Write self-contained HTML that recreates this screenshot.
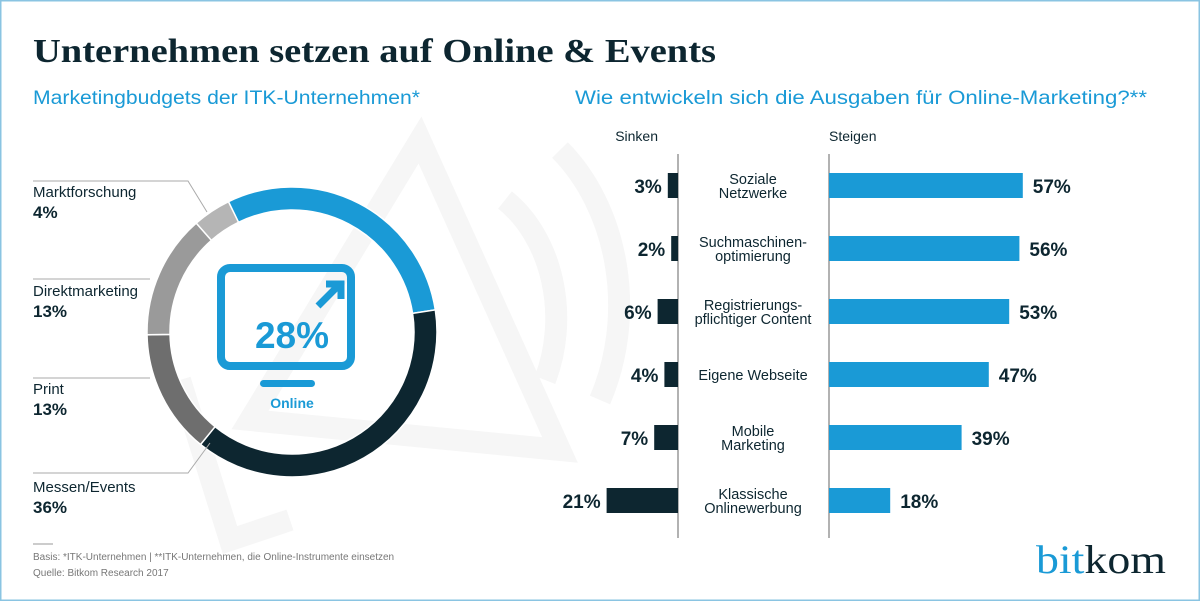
<!DOCTYPE html>
<html><head><meta charset="utf-8"><style>
body{margin:0;width:1200px;height:601px;overflow:hidden;background:#fff;font-family:"Liberation Sans",sans-serif}
</style></head><body>
<svg width="1200" height="601" viewBox="0 0 1200 601" id="chart">
<rect x="0.5" y="0.5" width="1199" height="600" fill="#fff" stroke="#8ac4e2" stroke-width="2"/>
<g fill="none" stroke="#f6f6f6" stroke-width="22">
<path d="M420 140 L560 450 L250 420 Z"/>
<path d="M505 200 A110 140 0 0 1 545 380"/>
<path d="M560 150 A160 200 0 0 1 600 400"/>
<path d="M180 380 L230 540 L290 520"/>
</g>
<text x="33" y="62" font-family="Liberation Serif,serif" font-weight="bold" font-size="34" textLength="683" lengthAdjust="spacingAndGlyphs" fill="#0d2630">Unternehmen setzen auf Online &amp; Events</text>
<text x="33" y="104" font-size="19" textLength="387" lengthAdjust="spacingAndGlyphs" fill="#1a9ad6">Marketingbudgets der ITK-Unternehmen*</text>
<text x="575" y="104" font-size="19" textLength="572" lengthAdjust="spacingAndGlyphs" fill="#1a9ad6">Wie entwickeln sich die Ausgaben für Online-Marketing?**</text>
<g id="donut"></g>
<g id="legend" font-size="15" fill="#0d2630"></g>
<g>
<rect x="221" y="268" width="130" height="98" rx="9" fill="none" stroke="#1a9ad6" stroke-width="8"/>
<path d="M318 306 L340 284 M326 284 L341 284 L341 299" stroke="#1a9ad6" stroke-width="7" fill="none"/>
<rect x="260" y="380" width="55" height="7" rx="3.5" fill="#1a9ad6"/>
<text x="292" y="348" text-anchor="middle" font-size="37" font-weight="bold" fill="#1a9ad6">28%</text>
<text x="292" y="408" text-anchor="middle" font-size="14" font-weight="bold" fill="#1a9ad6">Online</text>
</g>
<text x="658" y="141" text-anchor="end" font-size="14" fill="#0d2630">Sinken</text>
<text x="829" y="141" font-size="14" fill="#0d2630">Steigen</text>
<line x1="678" y1="154" x2="678" y2="538" stroke="#999" stroke-width="1.5"/>
<line x1="829" y1="154" x2="829" y2="538" stroke="#999" stroke-width="1.5"/>
<g id="bars"></g>
<line x1="33" y1="544" x2="53" y2="544" stroke="#bbb" stroke-width="1.5"/>
<text x="33" y="560" font-size="10" fill="#777">Basis: *ITK-Unternehmen | **ITK-Unternehmen, die Online-Instrumente einsetzen</text>
<text x="33" y="576" font-size="10" fill="#777">Quelle: Bitkom Research 2017</text>
<text x="1036" y="573" font-family="Liberation Serif,serif" font-size="40" textLength="130" lengthAdjust="spacingAndGlyphs"><tspan fill="#1a9ad6">bit</tspan><tspan fill="#0d2630">kom</tspan></text>
</svg>
<script>
const NS="http://www.w3.org/2000/svg";
const donutLabels=["Online","Messen/Events","Print","Direktmarketing","Marktforschung"];
const donutValues=[28,36,13,13,4];
const donutColors=["#1a9ad6","#0d2630","#6e6e6e","#9a9a9a","#b5b5b5"];
const categories=["Soziale|Netzwerke","Suchmaschinen-|optimierung","Registrierungs-|pflichtiger Content","Eigene Webseite","Mobile|Marketing","Klassische|Onlinewerbung"];
const sinken=[3,2,6,4,7,21];
const steigen=[57,56,53,47,39,18];
function mk(t,a,p){const e=document.createElementNS(NS,t);for(const k in a)e.setAttribute(k,a[k]);p.appendChild(e);return e;}
const cx=292,cy=332,R=145,r=122;
const total=donutValues.reduce((a,b)=>a+b,0);
let ang=-26*Math.PI/180;
const dg=document.getElementById('donut');
function pt(a,rad){return [cx+rad*Math.sin(a),cy-rad*Math.cos(a)];}
donutValues.forEach((v,i)=>{
 const s=ang,e=ang+v/total*2*Math.PI;ang=e;
 const l=(e-s)>Math.PI?1:0;
 const [x1,y1]=pt(s,R),[x2,y2]=pt(e,R),[x3,y3]=pt(e,r),[x4,y4]=pt(s,r);
 const p=mk('path',{d:`M${x1} ${y1} A${R} ${R} 0 ${l} 1 ${x2} ${y2} L${x3} ${y3} A${r} ${r} 0 ${l} 0 ${x4} ${y4}Z`,fill:donutColors[i],stroke:'#fff','stroke-width':1.5},dg);
 
 
});
const lg=document.getElementById('legend');
const legItems=[[4,192,"M33 181 L188 181 L207 212"],[3,291,"M33 279 L150 279"],[2,389,"M33 378 L150 378"],[1,487,"M33 473 L188 473 L210 443"]];
legItems.forEach(([i,y,d])=>{
 const ln=mk('path',{d:d,stroke:'#aaa','stroke-width':1,fill:'none'},lg);
 
 
 const t=mk('text',{x:33,y:y+5},lg);t.textContent=donutLabels[i];
 
 
 const t2=mk('text',{x:33,y:y+26,'font-weight':'bold','font-size':17},lg);t2.textContent=donutValues[i]+'%';
 
 
});
const bg=document.getElementById('bars');
const sc=3.4,x0L=678,x0R=829,y0=173,pitch=63,bh=25;
categories.forEach((c,i)=>{
 const y=y0+i*pitch;
 const wl=sinken[i]*sc,wr=steigen[i]*sc;
 const b1=mk('rect',{x:x0L-wl,y:y,width:wl,height:bh,fill:'#0d2630'},bg);
 
 
 const b2=mk('rect',{x:x0R,y:y,width:wr,height:bh,fill:'#1a9ad6'},bg);
 
 
 const t1=mk('text',{x:x0L-wl-6,y:y+20,'text-anchor':'end','font-size':19,'font-weight':'bold',fill:'#0d2630'},bg);t1.textContent=sinken[i]+'%';
 
 
 const t2=mk('text',{x:x0R+wr+10,y:y+20,'font-size':19,'font-weight':'bold',fill:'#0d2630'},bg);t2.textContent=steigen[i]+'%';
 
 
 const parts=c.split('|');
 parts.forEach((p,j)=>{
  const yy=parts.length==1?y+18:y+11+j*14;
  const t=mk('text',{x:753,y:yy,'text-anchor':'middle','font-size':14.5,fill:'#0d2630'},bg);t.textContent=p;
  
  
 });
});
</script>
</body></html>
